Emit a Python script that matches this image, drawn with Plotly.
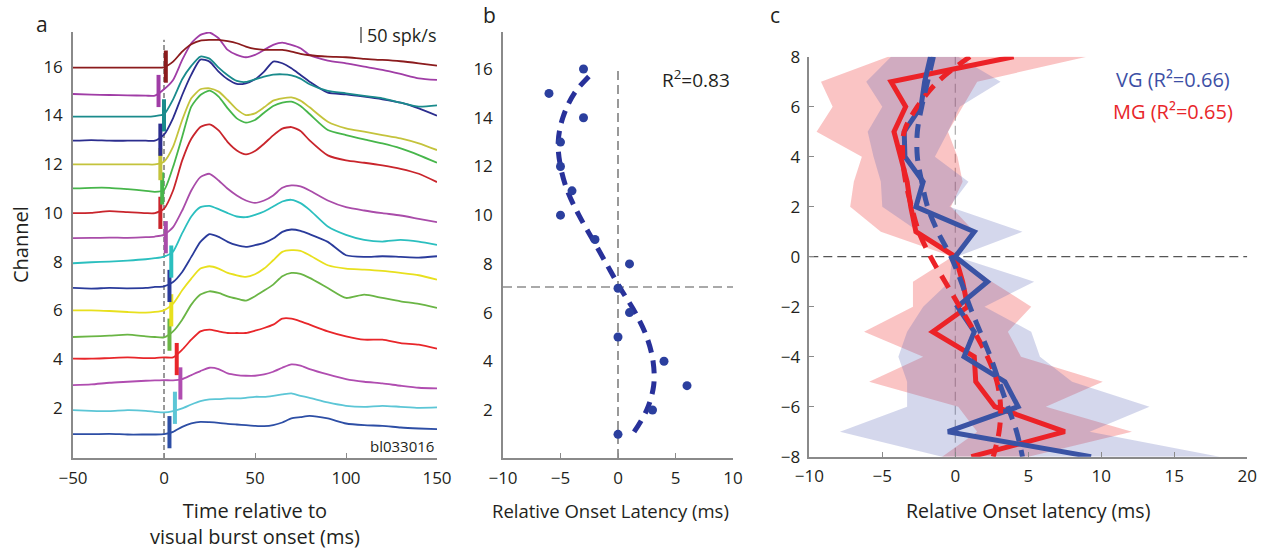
import plotly.graph_objects as go

W, H = 1264, 550

# ---------------- Panel a data ----------------
time_ms = [-50, -40, -30, -20, -10, -5, 0, 5, 10, 15, 20, 25, 30, 35, 40, 45, 50, 55, 60, 65,
           70, 75, 80, 90, 100, 110, 120, 130, 140, 150]
channels = list(range(1, 17))
# responses in spk/s relative to channel baseline
resp_ch1 = [-6, -6, -5, -7, -7, -7, -6, 1, 16, 26, 31, 30, 28, 25, 23, 21, 19, 18, 21, 29, 41, 45, 49, 41, 26, 21, 19, 14, 11, 9]
resp_ch2 = [-7, -9, -10, -7, -9, -12, -14, -10, -2, 10, 20, 25, 26, 28, 28, 30, 33, 33, 36, 40, 43, 36, 30, 16, 6, 3, 6, 3, 0, 1]
resp_ch3 = [-5, -3, 2, 5, 8, 9, 10, 9, 13, 25, 37, 47, 43, 30, 25, 23, 23, 27, 35, 47, 57, 53, 43, 27, 13, 5, 0, -7, -13, -15]
resp_ch4 = [1, 1, 3, 5, 3, 3, 5, 5, 28, 58, 83, 88, 83, 78, 78, 78, 85, 93, 103, 121, 121, 113, 103, 83, 68, 58, 58, 48, 43, 31]
resp_ch5 = [-7, -5, -3, 0, -5, -7, -8, 10, 45, 90, 120, 130, 125, 115, 108, 102, 115, 132, 150, 175, 185, 182, 170, 140, 110, 120, 110, 100, 92, 80]
resp_ch6 = [0, 0, -2, -5, -7, -5, 0, 20, 60, 95, 125, 132, 125, 112, 105, 100, 108, 125, 150, 175, 180, 178, 165, 135, 125, 122, 118, 112, 105, 92]
resp_ch7 = [-6, -8, -6, -7, -6, -3, -1, 12, 42, 87, 132, 155, 147, 132, 122, 117, 122, 129, 142, 162, 169, 165, 155, 132, 92, 87, 89, 87, 85, 89]
resp_ch8 = [-5, -2, 0, 3, 7, 10, 15, 30, 85, 135, 163, 167, 157, 145, 135, 133, 140, 150, 165, 180, 185, 175, 155, 105, 80, 65, 60, 65, 60, 50]
resp_ch9 = [-3, -2, -1, -2, 0, 2, 7, 30, 80, 140, 180, 190, 170, 145, 125, 110, 103, 110, 125, 148, 155, 152, 140, 110, 90, 80, 72, 65, 55, 45]
resp_ch10 = [-1, 0, 5, 2, -1, -1, 12, 67, 157, 222, 257, 265, 247, 212, 187, 175, 185, 207, 232, 252, 257, 245, 217, 172, 157, 150, 142, 132, 117, 92]
resp_ch11 = [0, 2, 2, -2, -7, -10, -5, 65, 155, 245, 280, 293, 275, 240, 210, 197, 205, 227, 247, 257, 260, 247, 223, 175, 160, 147, 135, 120, 100, 77]
resp_ch12 = [-1, -1, -1, -1, -1, -1, 7, 52, 132, 197, 224, 227, 217, 192, 164, 147, 152, 170, 190, 197, 200, 190, 170, 127, 107, 97, 87, 77, 62, 42]
resp_ch13 = [-3, -1, -3, -3, -3, -3, 15, 65, 134, 195, 240, 234, 204, 181, 167, 169, 181, 204, 234, 229, 214, 194, 174, 141, 136, 129, 121, 111, 94, 72]
resp_ch14 = [-4, -4, -4, -4, -4, -2, 3, 48, 108, 148, 176, 170, 143, 120, 103, 100, 108, 116, 122, 123, 120, 110, 93, 73, 66, 58, 51, 38, 26, 30]
resp_ch15 = [-9, -11, -12, -13, -14, -14, 5, 33, 93, 143, 168, 175, 158, 123, 108, 101, 108, 123, 138, 145, 138, 128, 108, 91, 83, 73, 63, 51, 38, 33]
resp_ch16 = [-3, -3, -3, -3, -3, -3, -2, 15, 45, 67, 78, 80, 80, 76, 70, 60, 53, 50, 50, 50, 45, 38, 34, 30, 28, 23, 20, 16, 10, 3]
responses = [resp_ch1, resp_ch2, resp_ch3, resp_ch4, resp_ch5, resp_ch6, resp_ch7, resp_ch8,
             resp_ch9, resp_ch10, resp_ch11, resp_ch12, resp_ch13, resp_ch14, resp_ch15, resp_ch16]
onset_ms = [3, 6, 9, 7, 3, 4, 3, 4, 1, -2, -1, -2, -2, 0, -3, 1]
channel_colors = ['#2d4ea5', '#5cc6d6', '#b04db0', '#e8262a', '#6ab545', '#e8e01e', '#2a3b9b', '#2bbfbf',
                  '#a94ca9', '#c9252c', '#47b64b', '#c4c33c', '#2b2d8e', '#1a8b8c', '#a03da6', '#8b1b1d']
SPK_PER_CHANNEL = 73.0  # 50 spk/s scale bar ~ 0.68 channel spacing

# ---------------- Panel b data ----------------
rel_latency = [0, 3, 6, 4, 0, 1, 0, 1, -2, -5, -4, -5, -5, -3, -6, -3]
fit_channel = [1.1, 2, 3, 4, 5, 6, 7, 8, 9, 10, 11, 12, 13, 14, 15, 15.9]
fit_latency = [1.4, 2.5, 3.1, 3.05, 2.5, 1.5, 0.2, -1.0, -2.2, -3.4, -4.4, -5.0, -5.2, -4.8, -3.8, -2.1]
ref_channel = 7.05

# ---------------- Panel c data ----------------
depth = [8, 7, 6, 5, 4, 3, 2, 1, 0, -1, -2, -3, -4, -5, -6, -7, -8]
vg_mean = [-1.7, -2.1, -2.35, -3.5, -3.45, -2.2, -2.7, 1.3, 0.0, 2.2, 0.15, 1.3, 0.6, 3.4, 4.3, -0.5, 9.3]
vg_lo = [-4.4, -6.1, -5.0, -6.0, -5.6, -5.1, -5.0, -2.5, -0.2, -0.4, -2.2, -3.3, -3.9, -3.3, -3.3, -7.9, -0.9]
vg_hi = [0.2, 3.1, 0.3, -0.5, -1.4, 0.9, -0.4, 4.6, 0.1, 5.4, 2.0, 5.2, 5.8, 8.0, 13.3, 9.2, 18.1]
vg_fit = [-1.5, -1.9, -2.3, -2.6, -2.6, -2.3, -1.9, -1.2, -0.3, 0.4, 1.0, 1.7, 2.4, 3.0, 3.6, 4.2, 4.6]
mg_mean = [4.0, -4.4, -3.4, -4.2, -3.75, -3.3, -3.05, -2.7, 0.0, 0.5, 0.85, -1.55, 1.3, 1.4, 2.7, 7.5, 1.1]
mg_lo = [-4.6, -9.2, -8.4, -9.5, -6.4, -6.95, -7.2, -5.1, -0.2, -2.9, -2.9, -6.25, -2.2, -5.9, 0.2, 1.5, -0.9]
mg_hi = [9.0, 1.5, 0.5, -0.5, 0.15, 0.5, -0.3, 1.3, 0.15, 2.5, 5.2, 3.6, 4.5, 10.1, 6.2, 12.1, 5.0]
mg_fit = [1.0, -1.2, -2.6, -3.5, -3.6, -3.4, -3.0, -2.5, -1.7, -0.7, 0.3, 1.3, 2.2, 2.85, 3.1, 3.0, 2.6]

FONT = 'Open Sans'
TXT = '#231f20'
AX = '#8a8a8a'


def fx(px):
    return px / W


def fy(py):
    return 1 - py / H


fig = go.Figure()

# ---- panel a traces ----
for ch, resp, col in zip(channels, responses, channel_colors):
    fig.add_trace(go.Scatter(
        x=time_ms, y=[ch + r / SPK_PER_CHANNEL for r in resp], mode='lines',
        line=dict(color=col, width=1.8, shape='spline', smoothing=0.6),
        xaxis='x', yaxis='y', showlegend=False, hoverinfo='skip'))
fig.add_trace(go.Scatter(
    x=onset_ms, y=channels, mode='markers',
    marker=dict(symbol='line-ns', size=23, line=dict(width=4, color=channel_colors)),
    xaxis='x', yaxis='y', showlegend=False, hoverinfo='skip'))

# ---- panel b ----
fig.add_trace(go.Scatter(
    x=fit_latency, y=fit_channel, mode='lines',
    line=dict(color='#28319a', width=5, dash='13px,8px', shape='spline'),
    xaxis='x2', yaxis='y2', showlegend=False, hoverinfo='skip'))
fig.add_trace(go.Scatter(
    x=rel_latency, y=channels, mode='markers',
    marker=dict(color='#2b3f9e', size=9),
    xaxis='x2', yaxis='y2', showlegend=False, hoverinfo='skip'))

# ---- panel c ----
fig.add_trace(go.Scatter(
    x=mg_lo + mg_hi[::-1], y=depth + depth[::-1], mode='lines', fill='toself',
    fillcolor='rgba(240,60,60,0.30)', line=dict(width=0),
    xaxis='x3', yaxis='y3', showlegend=False, hoverinfo='skip'))
fig.add_trace(go.Scatter(
    x=vg_lo + vg_hi[::-1], y=depth + depth[::-1], mode='lines', fill='toself',
    fillcolor='rgba(90,100,180,0.26)', line=dict(width=0),
    xaxis='x3', yaxis='y3', showlegend=False, hoverinfo='skip'))
fig.add_trace(go.Scatter(
    x=mg_mean, y=depth, mode='lines', line=dict(color='#ec2227', width=5),
    xaxis='x3', yaxis='y3', showlegend=False, hoverinfo='skip'))
fig.add_trace(go.Scatter(
    x=vg_mean, y=depth, mode='lines', line=dict(color='#3a53a4', width=5),
    xaxis='x3', yaxis='y3', showlegend=False, hoverinfo='skip'))
fig.add_trace(go.Scatter(
    x=mg_fit, y=depth, mode='lines', line=dict(color='#ec2227', width=5, dash='14px,9px', shape='spline'),
    xaxis='x3', yaxis='y3', showlegend=False, hoverinfo='skip'))
fig.add_trace(go.Scatter(
    x=vg_fit, y=depth, mode='lines', line=dict(color='#3a53a4', width=5, dash='14px,9px', shape='spline'),
    xaxis='x3', yaxis='y3', showlegend=False, hoverinfo='skip'))

axis_common = dict(showline=True, linecolor=AX, linewidth=1.5, showgrid=False, zeroline=False,
                   automargin=False,
                   tickfont=dict(family=FONT, size=17, color=TXT), tickcolor=AX, ticklen=5, tickwidth=1.2)

fig.update_layout(
    width=W, height=H, margin=dict(l=0, r=0, t=0, b=0, autoexpand=False),
    paper_bgcolor='white', plot_bgcolor='white', showlegend=False,
    font=dict(family=FONT, color=TXT),
    xaxis=dict(domain=[fx(73), fx(437)], range=[-50, 150], tickvals=[-50, 0, 50, 100, 150],
               ticks='inside', anchor='y', ticklabelstandoff=4, **axis_common),
    yaxis=dict(domain=[fy(458), fy(32)], range=[-0.06, 17.42], tickvals=[2, 4, 6, 8, 10, 12, 14, 16],
               ticks='', anchor='x', ticklabelstandoff=5, **axis_common),
    xaxis2=dict(domain=[fx(503), fx(733)], range=[-10, 10], tickvals=[-10, -5, 0, 5, 10],
                ticks='inside', anchor='y2', ticklabelstandoff=4, **axis_common),
    yaxis2=dict(domain=[fy(458), fy(32)], range=[0.03, 17.52], tickvals=[2, 4, 6, 8, 10, 12, 14, 16],
                ticks='', anchor='x2', ticklabelstandoff=5, **axis_common),
    xaxis3=dict(domain=[fx(809.3), fx(1247.3)], range=[-10, 20], tickvals=[-10, -5, 0, 5, 10, 15, 20],
                ticks='inside', anchor='y3', ticklabelstandoff=3, **axis_common),
    yaxis3=dict(domain=[fy(456.7), fy(56.7)], range=[-8, 8], tickvals=[-8, -6, -4, -2, 0, 2, 4, 6, 8],
                ticks='inside', anchor='x3', ticklabelstandoff=4, **axis_common),
)

shapes = [
    dict(type='line', xref='x', yref='y', x0=0, x1=0, y0=-0.06, y1=17.1,
         line=dict(color='#333333', width=1, dash='5px,3px'), layer='below'),
    dict(type='line', xref='x2', yref='y2', x0=0, x1=0, y0=0.03, y1=16,
         line=dict(color='#555555', width=1.2, dash='9px,5px'), layer='below'),
    dict(type='line', xref='x2', yref='y2', x0=-10, x1=10, y0=ref_channel, y1=ref_channel,
         line=dict(color='#555555', width=1.2, dash='9px,5px'), layer='below'),
    dict(type='line', xref='x3', yref='y3', x0=-10, x1=20, y0=0, y1=0,
         line=dict(color='#555555', width=1.2, dash='9px,5px'), layer='below'),
    dict(type='line', xref='x3', yref='y3', x0=0, x1=0, y0=-8, y1=8,
         line=dict(color='#aaaaaa', width=1.2, dash='9px,5px'), layer='below'),
    # scale bar
    dict(type='line', xref='paper', yref='paper', x0=fx(361), x1=fx(361), y0=fy(27), y1=fy(43),
         line=dict(color='#333333', width=1.2)),
]
fig.update_layout(shapes=shapes)


def ann(text, px, py, size, xanchor='center', yanchor='middle', color=TXT, angle=0):
    return dict(text=text, x=fx(px), y=fy(py), xref='paper', yref='paper', showarrow=False,
                xanchor=xanchor, yanchor=yanchor, textangle=angle,
                font=dict(family=FONT, size=size, color=color))


annotations = [
    ann('a', 42, 24, 21),
    ann('b', 489, 15, 21),
    ann('c', 775, 15, 21),
    ann('Channel', 20, 245, 20, angle=-90),
    ann('Time relative to<br>visual burst onset (ms)', 255, 523, 20),
    ann('Relative Onset Latency (ms)', 610, 510, 18.5),
    ann('Relative Onset latency (ms)', 1028, 510, 19.5),
    ann('50 spk/s', 365, 35, 18, xanchor='left'),
    ann('bl033016', 436, 446, 15, xanchor='right'),
    ann('R<sup>2</sup>=0.83', 660, 79, 19, xanchor='left'),
    ann('VG (R²=0.66)', 1173, 79, 20, color='#3d4fa5'),
    ann('MG (R²=0.65)', 1173, 112, 20, color='#e8262a'),
]
fig.update_layout(annotations=annotations)

fig.write_html('out.html')
